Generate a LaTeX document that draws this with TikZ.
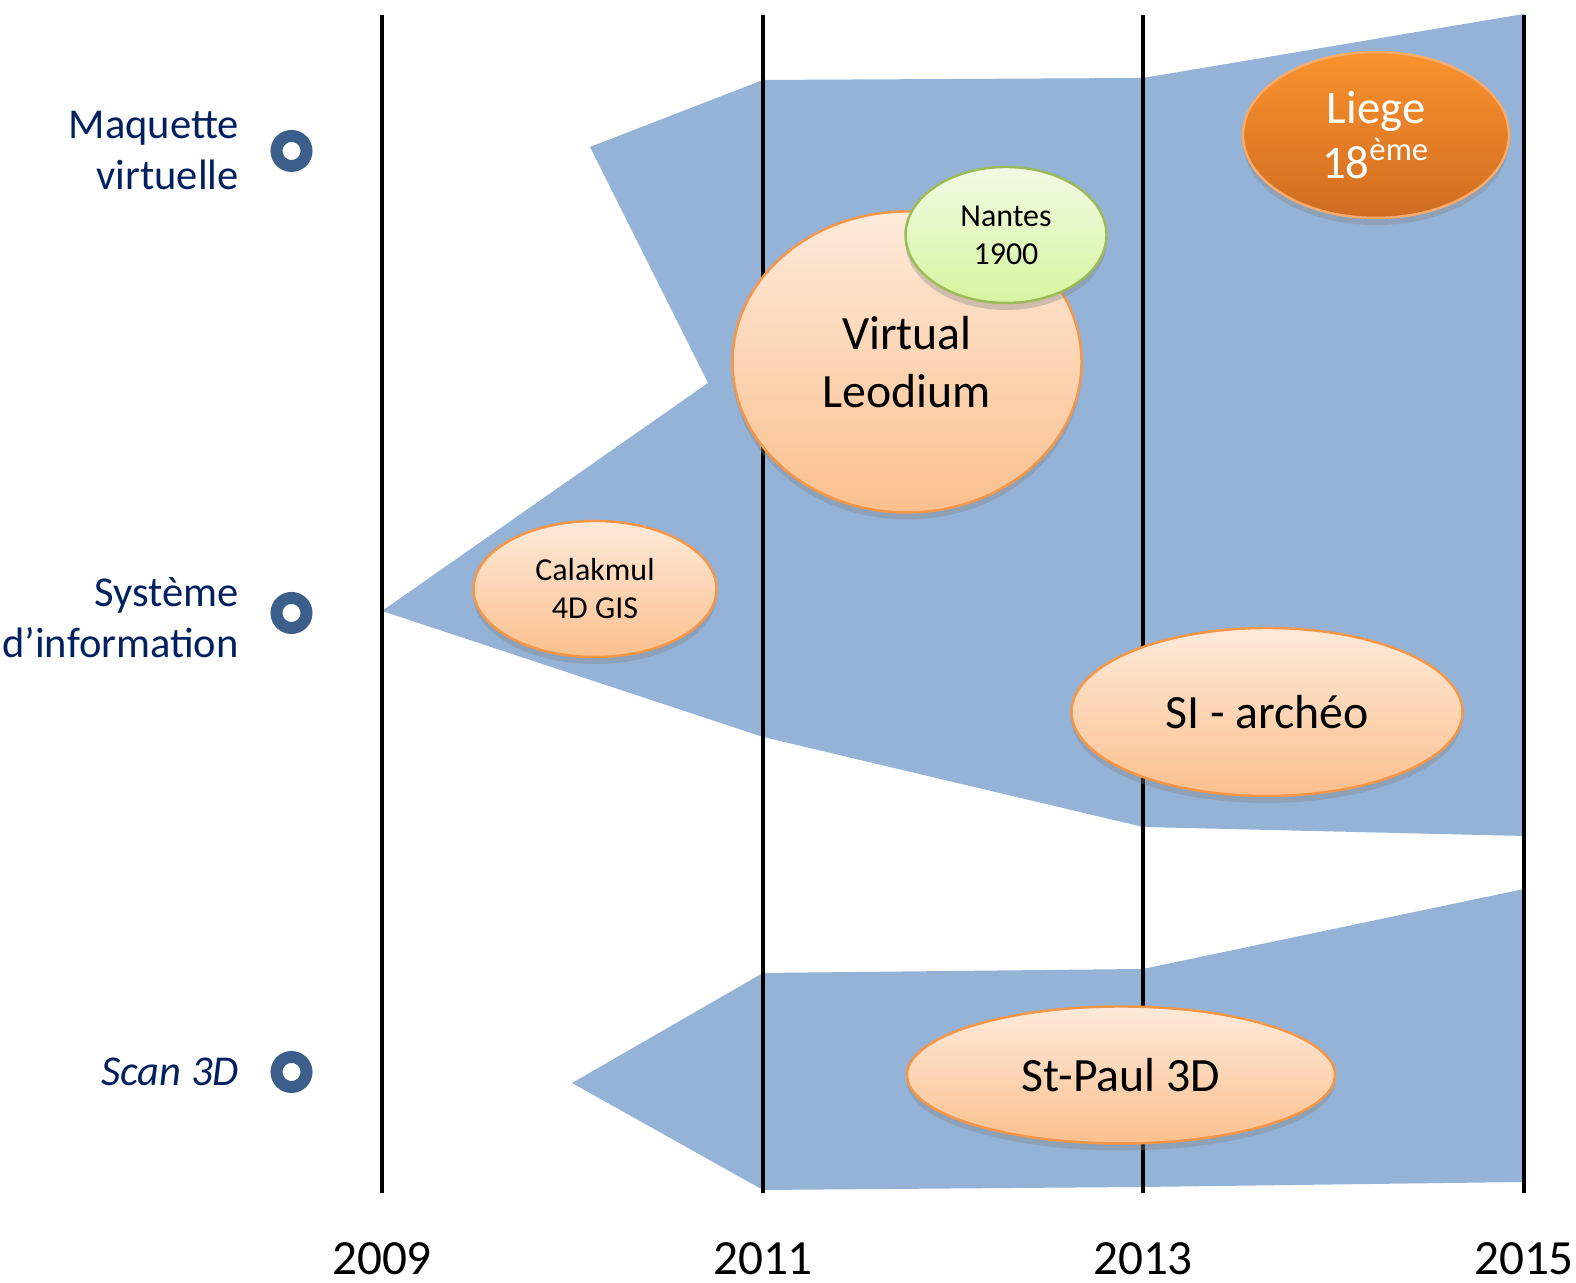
\documentclass[tikz,border=0pt]{standalone}
\usepackage{fontspec}
\setmainfont{Carlito}
\usepackage{tikz}
\usetikzlibrary{shapes, shadows, positioning}
\definecolor{bandblue}{RGB}{149,179,215}
\definecolor{navy}{RGB}{0,32,96}
\definecolor{ringblue}{RGB}{59,94,139}
\definecolor{peachtop}{RGB}{253,234,218}
\definecolor{peachbot}{RGB}{251,192,142}
\definecolor{peachline}{RGB}{247,150,70}
\definecolor{greentop}{RGB}{242,250,228}
\definecolor{greenbot}{RGB}{214,245,160}
\definecolor{greenline}{RGB}{155,187,89}
\definecolor{orangetop}{RGB}{250,146,46}
\definecolor{orangebot}{RGB}{208,108,32}
\tikzstyle{band} = [fill=bandblue, draw=none]
\tikzstyle{yearline} = [line width=1.2pt, black]
\tikzstyle{year} = [anchor=base, inner sep=0pt, font=\fontsize{14}{16}\selectfont]
\tikzstyle{ring} = [circle, draw=ringblue, line width=0.12cm, minimum size=0.3cm, inner sep=0pt, fill=white]
\tikzstyle{axislabel} = [inner sep=0pt, align=right, text=navy, font=\fontsize{12.1}{14.5}\selectfont]
\tikzstyle{project} = [ellipse, inner sep=0pt, draw=peachline, line width=0.7pt, top color=peachtop, bottom color=peachbot, text centered, align=center, drop shadow={shadow xshift=0pt, shadow yshift=-2pt, opacity=0.35}]
\tikzstyle{bigproject} = [project, font=\fontsize{13.6}{16.5}\selectfont]
\tikzstyle{smallproject} = [project, font=\fontsize{9.1}{10.8}\selectfont]

\begin{document}
\begin{tikzpicture}
\useasboundingbox (0,0) rectangle (15.76,12.83);
% blue bands
\fill [band] (5.90,11.36) -- (7.63,12.03) -- (11.43,12.05) -- (15.24,12.69) -- (15.24,4.47) -- (11.43,4.56) -- (7.63,5.46) -- (3.82,6.72) -- (7.08,9.00) -- cycle;
\fill [band] (5.72,2.00) -- (7.63,3.10) -- (11.43,3.14) -- (15.24,3.94) -- (15.24,1.01) -- (11.43,0.96) -- (7.63,0.93) -- cycle;
% time axis
\coordinate (t2009) at (3.82,12.68);
\coordinate (b2009) at (3.82,0.90);
\coordinate (t2011) at (7.63,12.68);
\coordinate (b2011) at (7.63,0.90);
\coordinate (t2013) at (11.43,12.68);
\coordinate (b2013) at (11.43,0.90);
\coordinate (t2015) at (15.24,12.68);
\coordinate (b2015) at (15.24,0.90);
\draw [yearline] (t2009) -- (b2009);
\draw [yearline] (t2011) -- (b2011);
\draw [yearline] (t2013) -- (b2013);
\draw [yearline] (t2015) -- (b2015);
\node (y2009) [year] at (3.82,0.08) {2009};
\node (y2011) [year] at (7.63,0.08) {2011};
\node (y2013) [year] at (11.43,0.08) {2013};
\node (y2015) [year] at (15.24,0.08) {2015};
% themes
\node (mv) [ring] at (2.915,11.32) {};
\node (si) [ring] at (2.915,6.70) {};
\node (scan) [ring] at (2.915,2.11) {};
\node (mvlabel) [axislabel, left=0.31cm of mv] {Maquette\\virtuelle};
\node (silabel) [axislabel, left=0.31cm of si, yshift=-0.05cm] {Système\\d’information};
\node (scanlabel) [axislabel, left=0.31cm of scan] {\itshape Scan 3D};
% projects
\node (calakmul) [smallproject, minimum width=2.43cm, minimum height=1.36cm] at (5.95,6.94) {Calakmul\\4D GIS};
\node (leodium) [bigproject, minimum width=3.49cm, minimum height=3.01cm] at (9.07,9.21) {Virtual\\Leodium};
\node (nantes) [smallproject, draw=greenline, top color=greentop, bottom color=greenbot, minimum width=2.01cm, minimum height=1.36cm] at (10.06,10.48) {Nantes\\1900};
\node (liege) [bigproject, font=\fontsize{13.3}{15.8}\selectfont, draw=peachline!80!white, top color=orangetop, bottom color=orangebot, text=white, minimum width=2.66cm, minimum height=1.66cm] at (13.76,11.48) {Liege\\18\textsuperscript{ème}};
\node (siarcheo) [bigproject, minimum width=3.91cm, minimum height=1.68cm] at (12.67,5.71) {SI - archéo};
\node (stpaul) [bigproject, minimum width=4.28cm, minimum height=1.37cm] at (11.21,2.08) {St-Paul 3D};
\end{tikzpicture}
\end{document}
